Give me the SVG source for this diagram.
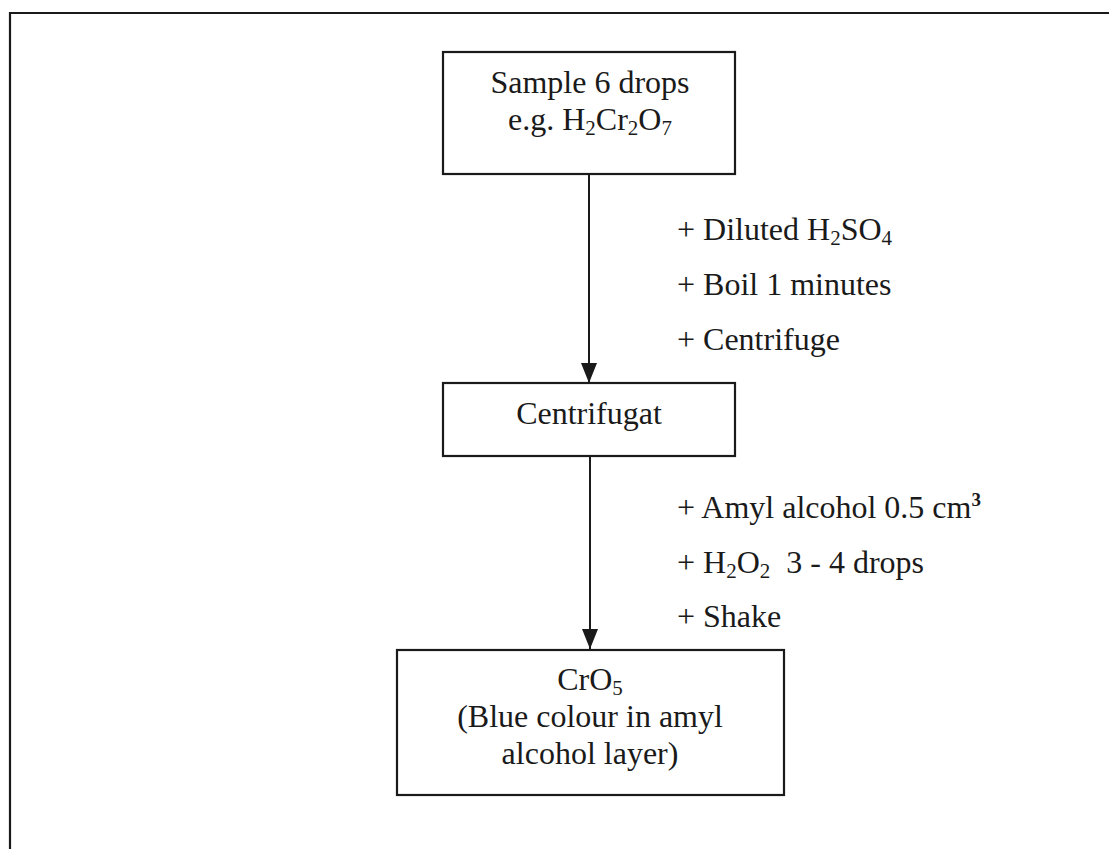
<svg xmlns="http://www.w3.org/2000/svg" width="1109" height="849" viewBox="0 0 1109 849">
<style>
  .box { fill: #ffffff; stroke: #1a1a1a; stroke-width: 2.2; }
  .frame { fill: none; stroke: #1a1a1a; stroke-width: 2.2; }
  .conn { fill: none; stroke: #1a1a1a; stroke-width: 2; }
  text { font-family: "Liberation Serif", "Times New Roman", serif; font-size: 32px; fill: #1a1a1a; }
  .c { text-anchor: middle; }
  .sub { font-size: 21px; }
  .sup { font-size: 19px; font-weight: bold; }
</style>
<defs>
  <marker id="arrow" viewBox="0 0 20 16" refX="20" refY="8" markerWidth="20" markerHeight="16" markerUnits="userSpaceOnUse" orient="auto">
    <path d="M0,0 L20,8 L0,16 Z" fill="#1a1a1a"/>
  </marker>
</defs>
<rect width="1109" height="849" fill="#ffffff"/>
<path class="frame" d="M10,849 L10,13 L1109,13"/>

<g id="connectors">
  <line class="conn" x1="589" y1="174" x2="589" y2="383" marker-end="url(#arrow)"/>
  <line class="conn" x1="590" y1="456" x2="590" y2="649" marker-end="url(#arrow)"/>
  <text x="677" y="240">+ Diluted H<tspan class="sub" dy="5">2</tspan><tspan dy="-5">SO</tspan><tspan class="sub" dy="5">4</tspan></text>
  <text x="677" y="295">+ Boil 1 minutes</text>
  <text x="677" y="350">+ Centrifuge</text>
  <text x="677" y="518">+ Amyl alcohol 0.5 cm<tspan class="sup" dy="-12">3</tspan></text>
  <text x="677" y="573" xml:space="preserve">+ H<tspan class="sub" dy="5">2</tspan><tspan dy="-5">O</tspan><tspan class="sub" dy="5">2</tspan><tspan dy="-5">  3 - 4 drops</tspan></text>
  <text x="677" y="627">+ Shake</text>
</g>

<g id="node-sample">
  <rect class="box" x="443" y="52" width="292" height="122"/>
  <text class="c" x="590" y="93">Sample 6 drops</text>
  <text class="c" x="590" y="130">e.g. H<tspan class="sub" dy="5">2</tspan><tspan dy="-5">Cr</tspan><tspan class="sub" dy="5">2</tspan><tspan dy="-5">O</tspan><tspan class="sub" dy="5">7</tspan></text>
</g>

<g id="node-centrifugat">
  <rect class="box" x="443" y="383" width="292" height="73"/>
  <text class="c" x="589" y="424">Centrifugat</text>
</g>

<g id="node-cro5">
  <rect class="box" x="397" y="650" width="387" height="145"/>
  <text class="c" x="590" y="690">CrO<tspan class="sub" dy="5">5</tspan></text>
  <text class="c" x="590" y="727">(Blue colour in amyl</text>
  <text class="c" x="590" y="764">alcohol layer)</text>
</g>
</svg>
